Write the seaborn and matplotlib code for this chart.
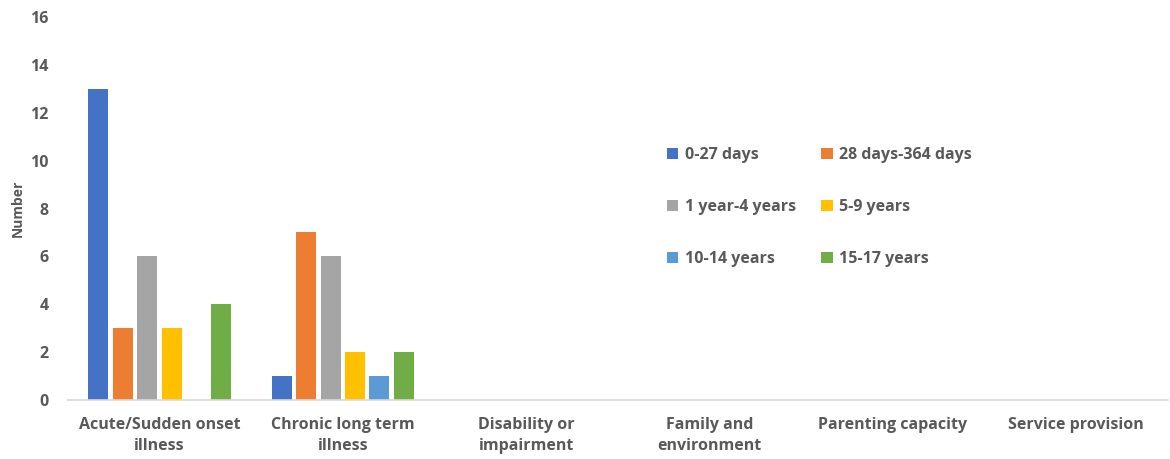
import matplotlib
matplotlib.use("Agg")
import matplotlib.pyplot as plt
import seaborn as sns
import pandas as pd

categories = ["Acute/Sudden onset\nillness", "Chronic long term\nillness",
              "Disability or\nimpairment", "Family and\nenvironment",
              "Parenting capacity", "Service provision"]
age_groups = ["0-27 days", "28 days-364 days", "1 year-4 years",
              "5-9 years", "10-14 years", "15-17 years"]
days_0_27 = [13, 1, 0, 0, 0, 0]
days_28_364 = [3, 7, 0, 0, 0, 0]
years_1_4 = [6, 6, 0, 0, 0, 0]
years_5_9 = [3, 2, 0, 0, 0, 0]
years_10_14 = [0, 1, 0, 0, 0, 0]
years_15_17 = [4, 2, 0, 0, 0, 0]
y_ticks = [0, 2, 4, 6, 8, 10, 12, 14, 16]

palette = ["#4472C4", "#ED7D31", "#A5A5A5", "#FFC000", "#5B9BD5", "#70AD47"]
text_color = "#595959"

series = [days_0_27, days_28_364, years_1_4, years_5_9, years_10_14, years_15_17]
rows = []
for grp, vals in zip(age_groups, series):
    for cat, v in zip(categories, vals):
        rows.append({"Category": cat, "Age": grp, "Number": v})
df = pd.DataFrame(rows)

sns.set_theme(style="white")
plt.rcParams["font.family"] = ["Open Sans", "DejaVu Sans"]
plt.rcParams["font.weight"] = "bold"

fig = plt.figure(figsize=(11.7, 4.59), dpi=100)
ax = fig.add_axes([0.058, 0.1285, 0.94, 0.8345])

sns.barplot(data=df, x="Category", y="Number", hue="Age",
            order=categories, hue_order=age_groups, palette=palette,
            width=0.8, gap=0.18, linewidth=0, saturation=1, ax=ax)

ax.set_ylim(0, 16)
ax.set_yticks(y_ticks)
ax.set_xlim(-0.5, len(categories) - 0.5)
for s in ["top", "right", "left"]:
    ax.spines[s].set_visible(False)
ax.spines["bottom"].set_color("#D9D9D9")
ax.spines["bottom"].set_linewidth(1.2)
ax.tick_params(axis="both", length=0, colors=text_color, labelsize=11.5)
ax.tick_params(axis="x", pad=12)
ax.tick_params(axis="y", pad=14)
for lab in ax.get_xticklabels() + ax.get_yticklabels():
    lab.set_fontweight("bold")
    lab.set_color(text_color)
for lab in ax.get_xticklabels():
    lab.set_verticalalignment("top")
    lab.set_linespacing(1.45)
ax.set_xlabel("")
ax.set_ylabel("Number", fontsize=10, fontweight="bold", color=text_color, labelpad=4)

# Row-major legend: two entries per row
handles, labels = ax.get_legend_handles_labels()
order = [0, 2, 4, 1, 3, 5]
ax.legend([handles[i] for i in order], [labels[i] for i in order], ncol=2,
          loc="upper left", bbox_to_anchor=(0.558, 0.71),
          bbox_transform=fig.transFigure,
          frameon=False, handlelength=0.7, handleheight=0.7, handletextpad=0.4,
          columnspacing=1.6, labelspacing=2.25,
          labelcolor=text_color, prop={"weight": "bold", "size": 11.5})

fig.savefig("out.png", dpi=100)
